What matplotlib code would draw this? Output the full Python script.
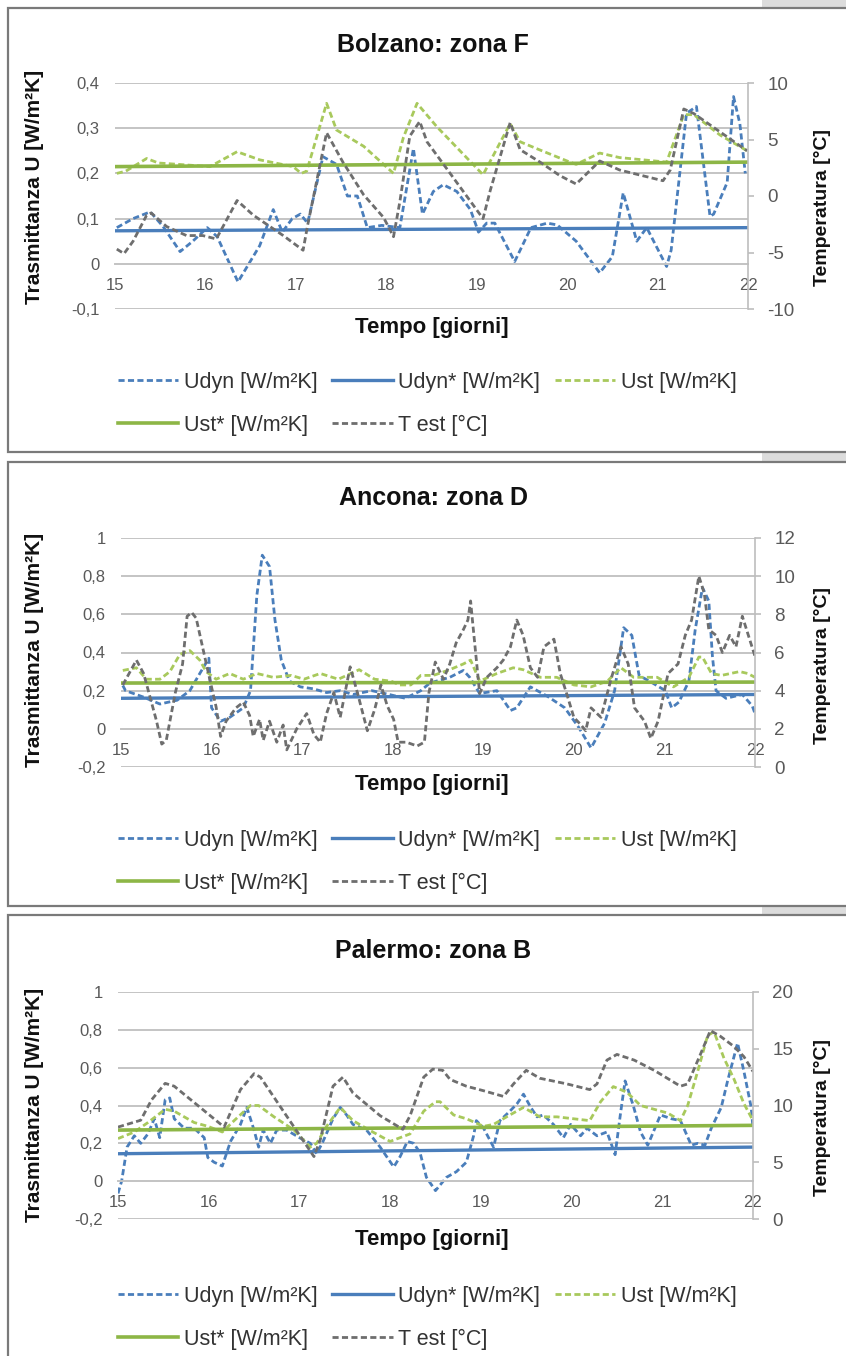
import matplotlib
matplotlib.use("Agg")
import matplotlib.pyplot as plt
from matplotlib.lines import Line2D
from matplotlib.patches import Rectangle
from matplotlib.ticker import FuncFormatter, MultipleLocator

plt.rcParams['font.family'] = ['Liberation Sans', 'DejaVu Sans']
plt.rcParams['axes.unicode_minus'] = False

W, H = 846, 1356

# ---- data: (giorno, valore) ----
# Bolzano: zona F
bz_udyn = [(15.02, 0.08), (15.2, 0.10), (15.39, 0.115), (15.53, 0.083), (15.72, 0.027),
           (15.86, 0.05), (16.02, 0.08), (16.13, 0.06), (16.36, -0.04), (16.6, 0.04),
           (16.75, 0.12), (16.85, 0.07), (16.96, 0.10), (17.05, 0.11), (17.13, 0.09),
           (17.3, 0.237), (17.45, 0.22), (17.57, 0.15), (17.68, 0.15), (17.79, 0.08),
           (17.95, 0.085), (18.15, 0.08), (18.3, 0.255), (18.4, 0.11), (18.52, 0.16),
           (18.63, 0.175), (18.78, 0.16), (18.93, 0.12), (19.02, 0.07), (19.11, 0.09),
           (19.2, 0.09), (19.42, 0.005), (19.6, 0.08), (19.78, 0.09), (19.89, 0.086),
           (20.1, 0.05), (20.36, -0.02), (20.5, 0.016), (20.62, 0.157), (20.77, 0.05),
           (20.88, 0.08), (21.1, -0.006), (21.15, 0.03), (21.32, 0.333), (21.43, 0.348),
           (21.58, 0.105), (21.62, 0.11), (21.77, 0.18), (21.84, 0.37), (21.91, 0.31),
           (21.97, 0.2)]
bz_udyn_star = [(15.0, 0.073), (22.0, 0.08)]
bz_ust = [(15.02, 0.2), (15.12, 0.205), (15.35, 0.233), (15.48, 0.223), (15.7, 0.22),
          (16.05, 0.215), (16.35, 0.248), (16.6, 0.23), (16.97, 0.215), (17.06, 0.2),
          (17.12, 0.205), (17.34, 0.355), (17.45, 0.296), (17.75, 0.26), (17.97, 0.22),
          (18.08, 0.2), (18.19, 0.28), (18.34, 0.355), (18.56, 0.303), (19.07, 0.197),
          (19.37, 0.31), (19.48, 0.27), (19.66, 0.255), (20.03, 0.225), (20.1, 0.22),
          (20.36, 0.245), (20.58, 0.235), (21.1, 0.225), (21.29, 0.33), (21.4, 0.33),
          (21.69, 0.285), (21.99, 0.25)]
bz_ust_star = [(15.0, 0.215), (22.0, 0.225)]
bz_test = [(15.02, -4.7), (15.1, -5.1), (15.2, -4.0), (15.35, -1.7), (15.4, -1.5),
           (15.57, -2.7), (15.79, -3.5), (15.97, -3.5), (16.12, -3.8), (16.35, -0.4),
           (16.53, -1.7), (16.64, -2.3), (16.86, -3.5), (17.08, -4.8), (17.13, -2.6),
           (17.34, 5.6), (17.52, 3.0), (17.75, 0.1), (17.97, -1.9), (18.08, -3.6),
           (18.15, -0.5), (18.26, 5.3), (18.37, 6.6), (18.45, 4.8), (18.67, 2.4),
           (19.07, -2.0), (19.15, 0.5), (19.37, 6.5), (19.48, 4.1), (19.7, 3.0),
           (19.92, 1.8), (20.1, 1.06), (20.36, 3.1), (20.58, 2.3), (21.06, 1.35),
           (21.14, 2.3), (21.29, 7.7), (21.4, 7.3), (21.99, 4.0)]

# Ancona: zona D
an_udyn = [(15.02, 0.227), (15.05, 0.2), (15.25, 0.166), (15.43, 0.13), (15.62, 0.15),
           (15.76, 0.2), (15.87, 0.29), (15.97, 0.37), (16.0, 0.11), (16.1, 0.04),
           (16.2, 0.06), (16.35, 0.11), (16.43, 0.2), (16.5, 0.7), (16.56, 0.91),
           (16.64, 0.85), (16.7, 0.57), (16.77, 0.36), (16.86, 0.25), (16.98, 0.22),
           (17.12, 0.21), (17.27, 0.19), (17.42, 0.2), (17.56, 0.18), (17.77, 0.2),
           (17.96, 0.18), (18.14, 0.16), (18.31, 0.2), (18.41, 0.24), (18.63, 0.27),
           (18.78, 0.306), (18.85, 0.27), (18.96, 0.185), (19.15, 0.2), (19.3, 0.096),
           (19.37, 0.11), (19.52, 0.22), (19.71, 0.17), (19.9, 0.11), (20.05, 0.01),
           (20.19, -0.1), (20.34, 0.03), (20.45, 0.2), (20.55, 0.53), (20.64, 0.49),
           (20.72, 0.28), (20.87, 0.24), (21.01, 0.2), (21.08, 0.11), (21.16, 0.14),
           (21.27, 0.25), (21.34, 0.52), (21.42, 0.74), (21.49, 0.67), (21.53, 0.38),
           (21.57, 0.2), (21.68, 0.16), (21.86, 0.18), (21.97, 0.12), (22.0, 0.08)]
an_udyn_star = [(15.0, 0.16), (22.0, 0.18)]
an_ust = [(15.02, 0.306), (15.17, 0.32), (15.28, 0.26), (15.43, 0.26), (15.54, 0.3),
          (15.65, 0.39), (15.76, 0.41), (15.87, 0.36), (15.94, 0.3), (16.05, 0.26),
          (16.2, 0.29), (16.35, 0.26), (16.5, 0.29), (16.68, 0.27), (16.88, 0.28),
          (17.02, 0.26), (17.2, 0.29), (17.4, 0.26), (17.63, 0.31), (17.8, 0.26),
          (17.98, 0.25), (18.08, 0.23), (18.2, 0.23), (18.31, 0.28), (18.45, 0.28),
          (18.63, 0.31), (18.78, 0.34), (18.86, 0.36), (18.96, 0.25), (19.15, 0.29),
          (19.33, 0.32), (19.44, 0.31), (19.63, 0.27), (19.81, 0.27), (20.0, 0.23),
          (20.19, 0.22), (20.37, 0.25), (20.52, 0.32), (20.66, 0.27), (20.92, 0.27),
          (21.1, 0.22), (21.27, 0.27), (21.38, 0.376), (21.42, 0.376), (21.52, 0.29),
          (21.63, 0.28), (21.83, 0.3), (21.92, 0.29), (22.0, 0.27)]
an_ust_star = [(15.0, 0.24), (22.0, 0.245)]
an_test = [(15.02, 4.3), (15.17, 5.6), (15.25, 4.9), (15.39, 2.45), (15.45, 1.2),
           (15.5, 1.4), (15.6, 3.9), (15.68, 5.4), (15.73, 7.9), (15.78, 8.1),
           (15.83, 7.8), (15.9, 6.3), (15.98, 4.6), (16.05, 3.15), (16.1, 1.6),
           (16.16, 2.4), (16.27, 3.1), (16.35, 3.4), (16.42, 2.7), (16.46, 1.6),
           (16.53, 2.5), (16.57, 1.4), (16.64, 2.4), (16.72, 1.3), (16.79, 2.2),
           (16.83, 0.9), (16.94, 2.0), (17.05, 2.8), (17.13, 1.7), (17.2, 1.3),
           (17.27, 2.8), (17.35, 3.9), (17.42, 2.6), (17.53, 5.25), (17.61, 3.9),
           (17.72, 1.9), (17.8, 3.0), (17.87, 4.3), (17.94, 3.2), (18.01, 2.5),
           (18.06, 1.3), (18.15, 1.3), (18.27, 1.1), (18.35, 1.3), (18.4, 3.9),
           (18.47, 5.5), (18.56, 4.6), (18.63, 5.4), (18.7, 6.5), (18.78, 7.2),
           (18.83, 7.7), (18.86, 8.7), (18.88, 7.7), (18.96, 3.85), (19.04, 4.7),
           (19.15, 5.2), (19.22, 5.6), (19.3, 6.3), (19.37, 7.7), (19.44, 6.9),
           (19.52, 5.2), (19.6, 4.7), (19.67, 6.3), (19.78, 6.7), (19.85, 4.9),
           (19.93, 3.7), (20.0, 2.6), (20.08, 2.2), (20.13, 1.9), (20.19, 3.1),
           (20.3, 2.6), (20.41, 4.6), (20.52, 6.3), (20.6, 5.4), (20.67, 3.1),
           (20.78, 2.4), (20.85, 1.5), (20.93, 2.4), (21.04, 4.9), (21.15, 5.4),
           (21.23, 6.9), (21.3, 7.7), (21.38, 10.0), (21.44, 9.1), (21.49, 7.2),
           (21.57, 6.9), (21.64, 6.0), (21.72, 6.9), (21.79, 6.3), (21.86, 7.9),
           (21.94, 6.7), (22.0, 5.8)]

# Palermo: zona B
pa_udyn = [(15.0, -0.065), (15.04, 0.0), (15.1, 0.18), (15.18, 0.24), (15.25, 0.2),
           (15.33, 0.25), (15.4, 0.33), (15.46, 0.23), (15.52, 0.43), (15.57, 0.44),
           (15.62, 0.33), (15.73, 0.28), (15.84, 0.28), (15.95, 0.23), (15.99, 0.125),
           (16.06, 0.1), (16.15, 0.08), (16.24, 0.21), (16.35, 0.3), (16.42, 0.39),
           (16.5, 0.27), (16.55, 0.18), (16.6, 0.27), (16.68, 0.2), (16.75, 0.27),
           (16.86, 0.27), (17.0, 0.23), (17.12, 0.2), (17.19, 0.145), (17.26, 0.21),
           (17.37, 0.33), (17.45, 0.39), (17.52, 0.35), (17.59, 0.3), (17.74, 0.27),
           (17.89, 0.18), (18.04, 0.075), (18.11, 0.13), (18.19, 0.21), (18.26, 0.2),
           (18.33, 0.15), (18.4, 0.02), (18.5, -0.05), (18.62, 0.02), (18.73, 0.05),
           (18.84, 0.1), (18.92, 0.24), (18.95, 0.32), (19.03, 0.28), (19.14, 0.18),
           (19.21, 0.32), (19.32, 0.37), (19.4, 0.41), (19.47, 0.46), (19.55, 0.39),
           (19.62, 0.34), (19.69, 0.35), (19.8, 0.3), (19.91, 0.23), (19.99, 0.3),
           (20.1, 0.24), (20.17, 0.28), (20.28, 0.24), (20.39, 0.26), (20.48, 0.14),
           (20.54, 0.36), (20.59, 0.53), (20.68, 0.4), (20.76, 0.26), (20.84, 0.19),
           (20.98, 0.35), (21.1, 0.33), (21.2, 0.32), (21.32, 0.19), (21.39, 0.2),
           (21.47, 0.19), (21.54, 0.28), (21.65, 0.39), (21.72, 0.53), (21.83, 0.73),
           (21.9, 0.58), (21.98, 0.39), (22.0, 0.28)]
pa_udyn_star = [(15.0, 0.145), (22.0, 0.18)]
pa_ust = [(15.0, 0.225), (15.18, 0.26), (15.33, 0.31), (15.52, 0.38), (15.62, 0.37),
          (15.84, 0.31), (15.99, 0.29), (16.15, 0.26), (16.28, 0.32), (16.46, 0.4),
          (16.55, 0.4), (16.72, 0.34), (16.94, 0.27), (17.12, 0.18), (17.19, 0.2),
          (17.3, 0.29), (17.45, 0.39), (17.59, 0.32), (17.77, 0.27), (18.0, 0.21),
          (18.11, 0.23), (18.22, 0.25), (18.37, 0.37), (18.5, 0.42), (18.55, 0.42),
          (18.7, 0.35), (18.84, 0.33), (19.03, 0.29), (19.14, 0.3), (19.32, 0.35),
          (19.47, 0.39), (19.65, 0.34), (19.84, 0.34), (20.02, 0.33), (20.2, 0.32),
          (20.32, 0.42), (20.46, 0.5), (20.61, 0.47), (20.76, 0.4), (20.91, 0.38),
          (21.06, 0.36), (21.2, 0.32), (21.28, 0.4), (21.39, 0.58), (21.5, 0.77),
          (21.57, 0.79), (21.68, 0.65), (21.79, 0.54), (21.9, 0.41), (22.0, 0.32)]
pa_ust_star = [(15.0, 0.27), (22.0, 0.295)]
pa_test = [(15.0, 8.1), (15.25, 8.7), (15.37, 10.5), (15.52, 11.95), (15.62, 11.7),
           (16.17, 8.1), (16.35, 11.4), (16.5, 12.8), (16.57, 12.5), (17.16, 5.5),
           (17.23, 7.0), (17.37, 11.7), (17.48, 12.5), (17.59, 11.1), (17.89, 9.1),
           (18.14, 7.9), (18.22, 9.1), (18.37, 12.5), (18.47, 13.2), (18.58, 13.1),
           (18.66, 12.3), (18.84, 11.7), (19.03, 11.3), (19.25, 10.8), (19.36, 11.9),
           (19.5, 13.1), (19.65, 12.4), (19.95, 11.9), (20.2, 11.4), (20.28, 11.9),
           (20.39, 14.0), (20.5, 14.5), (20.69, 14.0), (20.91, 13.1), (21.2, 11.7),
           (21.28, 11.9), (21.42, 14.5), (21.53, 16.6), (21.64, 16.1), (21.79, 15.2),
           (21.9, 14.3), (22.0, 13.0)]

titles = ["Bolzano: zona F", "Ancona: zona D", "Palermo: zona B"]
labels = ["Udyn [W/m²K]", "Udyn* [W/m²K]", "Ust [W/m²K]", "Ust* [W/m²K]", "T est [°C]"]
day_ticks = [15, 16, 17, 18, 19, 20, 21, 22]

# ---- layout (pixels) ----
panels = [
    dict(title=titles[0], series=[bz_udyn, bz_udyn_star, bz_ust, bz_ust_star], temp=bz_test,
         box=(8, 8, 452), plot=(115, 748, 83, 309), ylim=(-0.1, 0.4), ystep=0.1,
         tlim=(-10, 10), tstep=5, ty=45, xl=328, yl=187, tyl=208, leg=372),
    dict(title=titles[1], series=[an_udyn, an_udyn_star, an_ust, an_ust_star], temp=an_test,
         box=(8, 462, 906), plot=(121, 755, 538, 767), ylim=(-0.2, 1.0), ystep=0.2,
         tlim=(0, 12), tstep=2, ty=498, xl=784, yl=650, tyl=665, leg=830),
    dict(title=titles[2], series=[pa_udyn, pa_udyn_star, pa_ust, pa_ust_star], temp=pa_test,
         box=(8, 915, 1370), plot=(118, 753, 992, 1219), ylim=(-0.2, 1.0), ystep=0.2,
         tlim=(0, 20), tstep=5, ty=951, xl=1239, yl=1105, tyl=1118, leg=1286),
]

BLUE = '#4a7ebb'
GREEN_D = '#a8c95c'
GREEN = '#8db646'
GRAY = '#6e6e6e'
GRID = '#c4c4c4'
TXT = '#595959'

styles = [
    dict(color=BLUE, lw=2.0, ls=(0, (2.2, 1.2))),
    dict(color=BLUE, lw=2.4, ls='-'),
    dict(color=GREEN_D, lw=2.0, ls=(0, (2.2, 1.2))),
    dict(color=GREEN, lw=2.6, ls='-'),
]
temp_style = dict(color=GRAY, lw=2.0, ls=(0, (2.2, 1.2)))


def fx(x):
    return x / W


def fy(y):
    return 1 - y / H


def comma(v, pos):
    v = round(v, 2)
    if abs(v) < 1e-9:
        return "0"
    return ("%g" % v).replace('.', ',')


fig = plt.figure(figsize=(W / 100, H / 100), dpi=100)

# background strips and panel boxes
for (x0, y0, w, h) in [(762, 0, 90, 9), (762, 452, 90, 11), (762, 906, 90, 10)]:
    fig.patches.append(Rectangle((fx(x0), fy(y0 + h)), w / W, h / H, transform=fig.transFigure,
                                 facecolor='#dcdcdc', edgecolor='none', zorder=0))

for p in panels:
    bx, btop, bbot = p['box']
    fig.patches.append(Rectangle((fx(bx), fy(bbot)), (W + 20 - bx) / W, (bbot - btop) / H,
                                 transform=fig.transFigure, facecolor='white',
                                 edgecolor='#7a7a7a', lw=1.6, zorder=1))

    l, r, t, b = p['plot']
    ax = fig.add_axes([fx(l), fy(b), (r - l) / W, (b - t) / H])
    ax.set_zorder(3)
    ax.patch.set_visible(False)
    ax2 = ax.twinx()
    ax2.set_zorder(4)

    for data, st in zip(p['series'], styles):
        xs, ys = zip(*data)
        ax.plot(xs, ys, color=st['color'], lw=st['lw'], ls=st['ls'], solid_capstyle='butt')
    xs, ys = zip(*p['temp'])
    ax2.plot(xs, ys, color=temp_style['color'], lw=temp_style['lw'], ls=temp_style['ls'])

    ax.set_xlim(15, 22)
    ax.set_ylim(*p['ylim'])
    ax2.set_ylim(*p['tlim'])
    ax.yaxis.set_major_locator(MultipleLocator(p['ystep']))
    ax.yaxis.set_major_formatter(FuncFormatter(comma))
    ax2.yaxis.set_major_locator(MultipleLocator(p['tstep']))
    ax.set_xticks(day_ticks)
    ax.set_xticklabels([str(d) for d in day_ticks])

    ax.grid(axis='y', color=GRID, lw=1.4)
    ax.set_axisbelow(True)
    for s in ['top', 'left', 'right']:
        ax.spines[s].set_visible(False)
    ax.spines['bottom'].set_position(('data', 0))
    ax.spines['bottom'].set_color(GRID)
    ax.spines['bottom'].set_linewidth(1.4)
    for s in ['top', 'left', 'bottom']:
        ax2.spines[s].set_visible(False)
    ax2.spines['right'].set_color('#bdbdbd')
    ax2.spines['right'].set_linewidth(1.2)

    ax.tick_params(axis='x', length=0, pad=10, labelsize=12, labelcolor=TXT)
    ax.tick_params(axis='y', length=0, pad=11, labelsize=12, labelcolor=TXT)
    ax2.tick_params(axis='y', length=4, width=1.2, color='#bdbdbd', pad=10,
                    labelsize=13.5, labelcolor=TXT)
    ax2.tick_params(axis='x', length=0, labelbottom=False)

    fig.text(fx(433), fy(p['ty']), p['title'], ha='center', va='center',
             fontsize=18, fontweight='bold', color='#111111')
    fig.text(fx(432), fy(p['xl']), "Tempo [giorni]", ha='center', va='center',
             fontsize=16, fontweight='bold', color='#111111')
    fig.text(fx(35), fy(p['yl']), "Trasmittanza U [W/m²K]", ha='center', va='center',
             rotation=90, fontsize=15, fontweight='bold', color='#111111')
    fig.text(fx(822), fy(p['tyl']), "Temperatura [°C]", ha='center', va='center',
             rotation=90, fontsize=14, fontweight='bold', color='#111111')

    handles = [Line2D([], [], **{k: v for k, v in st.items()}) for st in styles]
    handles.append(Line2D([], [], **temp_style))
    order = [0, 3, 1, 4, 2]
    fig.legend([handles[i] for i in order], [labels[i] for i in order],
               loc='upper left', bbox_to_anchor=(fx(118), fy(p['leg'])), ncol=3,
               frameon=False, fontsize=15.5, handlelength=2.8, handletextpad=0.25,
               columnspacing=0.7, labelspacing=1.0, labelcolor='#333333',
               borderaxespad=0, borderpad=0)

fig.savefig("out.png", dpi=100, facecolor='white')
